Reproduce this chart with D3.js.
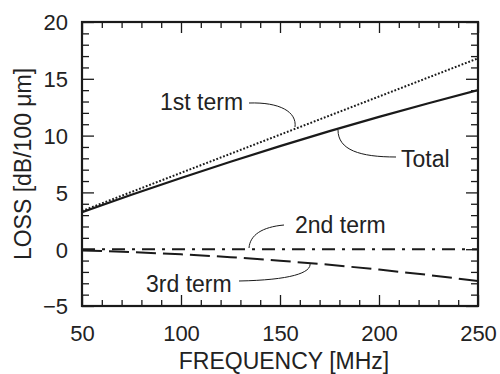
<!DOCTYPE html>
<html><head><meta charset="utf-8">
<script src="https://cdn.jsdelivr.net/npm/d3@7"></script>
<style>
body{margin:0;background:#fff;}
svg text{font-family:"Liberation Sans",Arial,sans-serif;fill:#222;}
</style></head>
<body><svg id="c" width="500" height="374"></svg>
<script>
// ---- data ----
const freq = [50, 75, 100, 125, 150, 175, 200, 225, 250];
const firstTerm = [3.36, 5.04, 6.72, 8.40, 10.08, 11.76, 13.44, 15.12, 16.80];
const secondTerm = [0, 0, 0, 0, 0, 0, 0, 0, 0];
const thirdTerm = [-0.11, -0.25, -0.45, -0.70, -1.01, -1.37, -1.79, -2.27, -2.80];
const totalLoss = [3.25, 4.79, 6.27, 7.70, 9.07, 10.39, 11.65, 12.85, 14.00];
const xMajorTicks = [50, 100, 150, 200, 250];
const yMajorTicks = [-5, 0, 5, 10, 15, 20];
const xTitle = "FREQUENCY [MHz]";
const yTitle = "LOSS [dB/100 \u03bcm]";

const svg = d3.select("#c");
const L = 82, R = 478, T = 22, B = 306;
const x = d3.scaleLinear().domain([50, 250]).range([L, R]);
const y = d3.scaleLinear().domain([-5, 20]).range([B, T]);
const xMinor = d3.range(50, 251, 10).filter(v => !xMajorTicks.includes(v));
const yMinor = d3.range(-5, 21, 1).filter(v => !yMajorTicks.includes(v));
const stroke = "#1a1a1a";

function styleAxis(g) {
  g.select(".domain").remove();
  g.selectAll(".tick line").attr("stroke", stroke).attr("stroke-width", 1.3);
}
// bottom
svg.append("g").attr("transform", `translate(0,${B})`)
  .call(d3.axisBottom(x).tickValues(xMajorTicks).tickSize(-11).tickFormat(d3.format("d")))
  .call(styleAxis)
  .call(g => g.selectAll("text").attr("y", 35).attr("dy", 0).attr("font-size", 22).attr("fill", "#222"));
svg.append("g").attr("transform", `translate(0,${B})`)
  .call(d3.axisBottom(x).tickValues(xMinor).tickSize(-6).tickFormat(""))
  .call(styleAxis);
// top
svg.append("g").attr("transform", `translate(0,${T})`)
  .call(d3.axisTop(x).tickValues(xMajorTicks).tickSize(-11).tickFormat(""))
  .call(styleAxis);
svg.append("g").attr("transform", `translate(0,${T})`)
  .call(d3.axisTop(x).tickValues(xMinor).tickSize(-6).tickFormat(""))
  .call(styleAxis);
// left
svg.append("g").attr("transform", `translate(${L},0)`)
  .call(d3.axisLeft(y).tickValues(yMajorTicks).tickSize(-12).tickFormat(d3.format("d")))
  .call(styleAxis)
  .call(g => g.selectAll("text").attr("x", -14).attr("dy", "0.36em").attr("font-size", 22).attr("fill", "#222"));
svg.append("g").attr("transform", `translate(${L},0)`)
  .call(d3.axisLeft(y).tickValues(yMinor).tickSize(-7).tickFormat(""))
  .call(styleAxis);
// right
svg.append("g").attr("transform", `translate(${R},0)`)
  .call(d3.axisRight(y).tickValues(yMajorTicks).tickSize(-12).tickFormat(""))
  .call(styleAxis);
svg.append("g").attr("transform", `translate(${R},0)`)
  .call(d3.axisRight(y).tickValues(yMinor).tickSize(-7).tickFormat(""))
  .call(styleAxis);

// clip
svg.append("clipPath").attr("id", "clip").append("rect")
  .attr("x", L).attr("y", T).attr("width", R - L).attr("height", B - T);

const line = d3.line().x((d, i) => x(freq[i])).y(d => y(d));
const plot = svg.append("g").attr("clip-path", "url(#clip)");
const series = [
  {v: firstTerm, dash: "1.8,1.8", w: 2},
  {v: totalLoss, dash: null, w: 2.2},
  {v: secondTerm, dash: "13,7,3,7", w: 2},
  {v: thirdTerm, dash: "20,7", w: 2},
];
series.forEach(s => {
  plot.append("path").datum(s.v).attr("d", line)
    .attr("fill", "none").attr("stroke", stroke).attr("stroke-width", s.w)
    .attr("stroke-dasharray", s.dash);
});

// frame
svg.append("rect").attr("x", L).attr("y", T).attr("width", R - L).attr("height", B - T)
  .attr("fill", "none").attr("stroke", stroke).attr("stroke-width", 2.2);

// annotations
const ann = [
  {text: "1st term", tx: 160, ty: 110, path: "M249,103 C280,102 297,112 295,127"},
  {text: "Total", tx: 401, ty: 167, path: "M338,130 C338,150 360,157 396,157"},
  {text: "2nd term", tx: 295, ty: 233, path: "M284,225 C262,227 250,235 249,248"},
  {text: "3rd term", tx: 146, ty: 292, path: "M239,281 C290,280 312,273 310,263"},
];
ann.forEach(a => {
  svg.append("path").attr("d", a.path).attr("fill", "none").attr("stroke", stroke).attr("stroke-width", 1);
  svg.append("text").attr("x", a.tx).attr("y", a.ty).attr("font-size", 23).text(a.text);
});

// titles
svg.append("text").attr("x", (L + R) / 2 + 4).attr("y", 369).attr("text-anchor", "middle")
  .attr("font-size", 23).text(xTitle);
svg.append("text").attr("transform", `translate(31,${(T + B) / 2}) rotate(-90)`)
  .attr("text-anchor", "middle").attr("font-size", 23).text(yTitle);
</script></body></html>
